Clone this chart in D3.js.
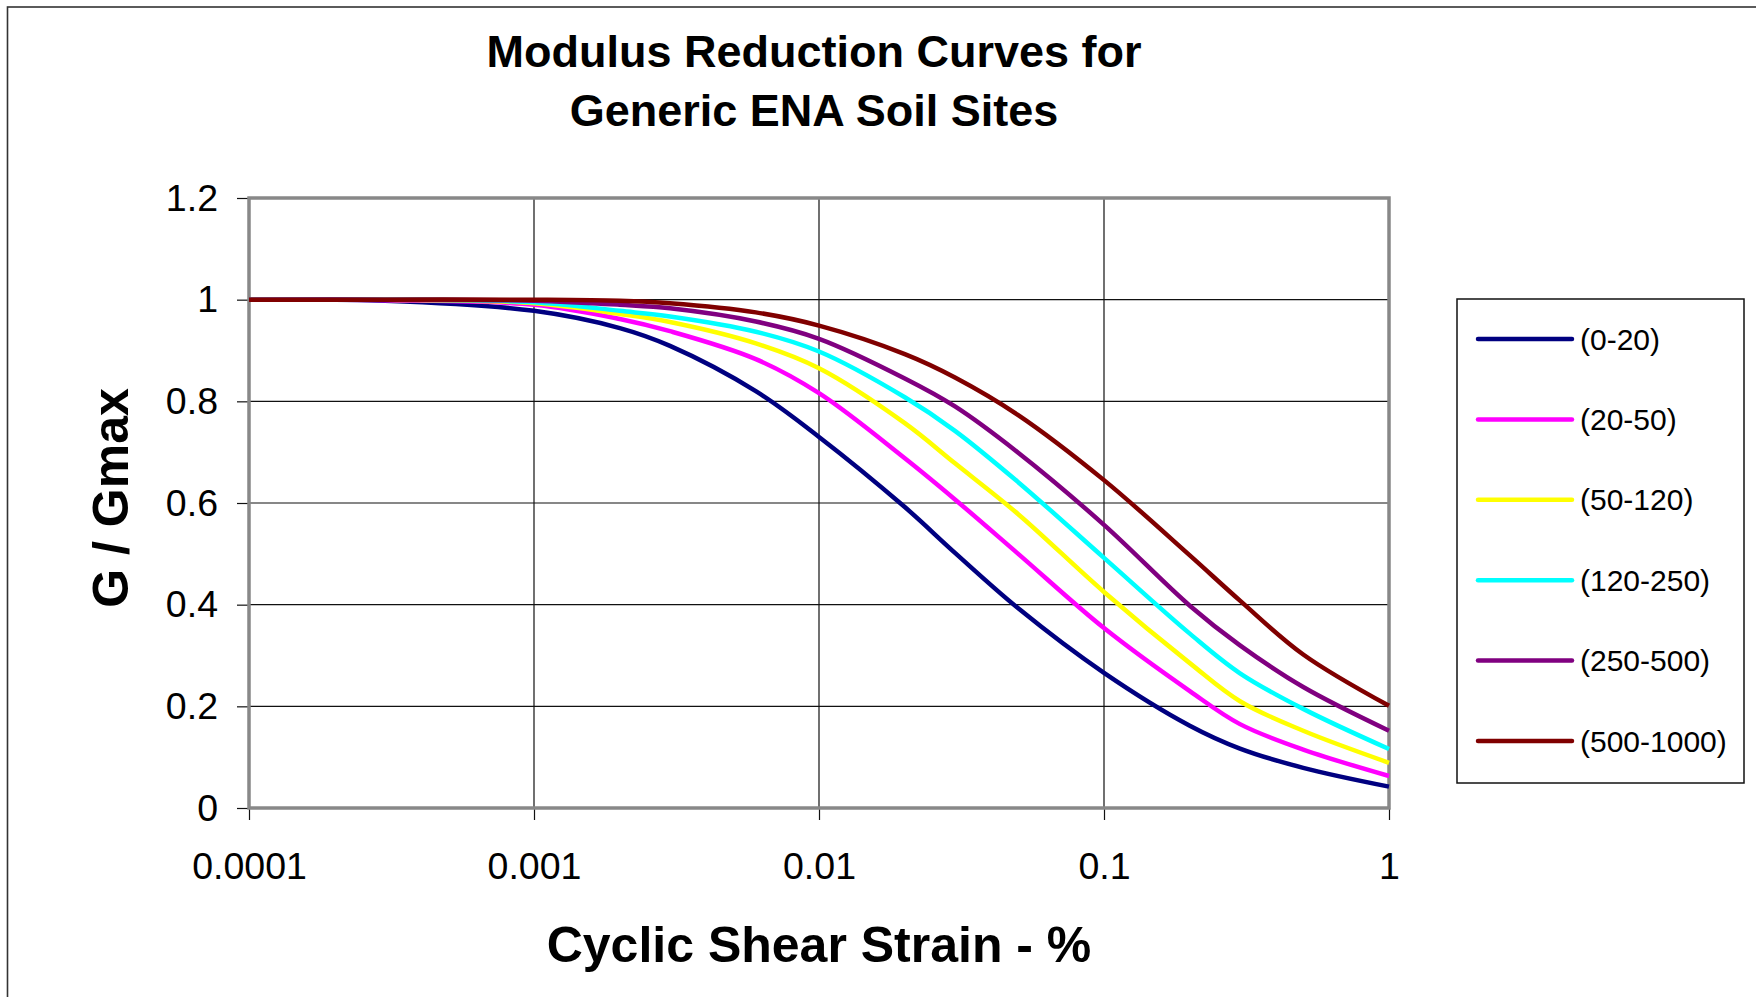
<!DOCTYPE html>
<html>
<head>
<meta charset="utf-8">
<script src="https://cdn.jsdelivr.net/npm/d3@7"></script>
<style>
  html, body { margin: 0; padding: 0; background: #fff; }
  svg { display: block; }
  text { font-family: "Liberation Sans", Arial, sans-serif; fill: #000; }
</style>
</head>
<body>
<svg id="chart" width="1756" height="997"></svg>
<script>
// ---- data ----
const strains = [0.0001, 0.0003, 0.001, 0.002, 0.003, 0.006, 0.01, 0.02, 0.03, 0.05, 0.1, 0.2, 0.3, 0.5, 1];
const seriesNames = ["(0-20)", "(20-50)", "(50-120)", "(120-250)", "(250-500)", "(500-1000)"];
const seriesColors = ["#000080", "#FF00FF", "#FFFF00", "#00FFFF", "#800080", "#800000"];
const g0_20     = [1.0, 0.998, 0.978, 0.944, 0.909, 0.820, 0.730, 0.592, 0.502, 0.393, 0.266, 0.162, 0.117, 0.079, 0.042];
const g20_50    = [1.0, 0.999, 0.990, 0.962, 0.938, 0.883, 0.816, 0.688, 0.607, 0.500, 0.354, 0.230, 0.165, 0.115, 0.063];
const g50_120   = [1.0, 1.000, 0.993, 0.972, 0.956, 0.914, 0.865, 0.757, 0.678, 0.578, 0.425, 0.285, 0.210, 0.152, 0.089];
const g120_250  = [1.0, 1.000, 0.995, 0.978, 0.967, 0.937, 0.898, 0.808, 0.742, 0.641, 0.492, 0.343, 0.265, 0.195, 0.116];
const g250_500  = [1.0, 1.000, 0.998, 0.990, 0.983, 0.957, 0.923, 0.845, 0.790, 0.699, 0.557, 0.398, 0.320, 0.238, 0.152];
const g500_1000 = [1.0, 1.000, 1.000, 0.998, 0.993, 0.975, 0.949, 0.893, 0.847, 0.773, 0.645, 0.497, 0.408, 0.302, 0.201];
const seriesValues = [g0_20, g20_50, g50_120, g120_250, g250_500, g500_1000];
const xTickValues = [0.0001, 0.001, 0.01, 0.1, 1];
const xTickLabels = ["0.0001", "0.001", "0.01", "0.1", "1"];
const yTickValues = [0, 0.2, 0.4, 0.6, 0.8, 1, 1.2];
const yTickLabels = ["0", "0.2", "0.4", "0.6", "0.8", "1", "1.2"];
const titleLines = ["Modulus Reduction Curves for", "Generic ENA Soil Sites"];
const xTitle = "Cyclic Shear Strain - %";
const yTitle = "G / Gmax";

// ---- layout ----
const W = 1756, H = 997;
const plot = { left: 249, right: 1389, top: 198, bottom: 808 };

const svg = d3.select("#chart");
svg.append("rect").attr("width", W).attr("height", H).attr("fill", "#fff");
// outer chart border (cropped at right/bottom)
svg.append("rect").attr("x", 7.5).attr("y", 7).attr("width", 1900).attr("height", 1200)
  .attr("fill", "none").attr("stroke", "#333").attr("stroke-width", 1.6);

const x = d3.scaleLog().domain([0.0001, 1]).range([plot.left, plot.right]);
const y = d3.scaleLinear().domain([0, 1.2]).range([plot.bottom, plot.top]);

// title
const title = svg.append("text").attr("text-anchor", "middle")
  .style("font-weight", "bold").style("font-size", "45px");
titleLines.forEach((t, i) => {
  title.append("tspan").attr("x", 814).attr("y", 67 + i * 59).text(t);
});

// gridlines
const grid = svg.append("g");
grid.selectAll("line.h").data(yTickValues.filter(v => v > 0 && v < 1.2)).enter().append("line")
  .attr("x1", plot.left).attr("x2", plot.right)
  .attr("y1", d => y(d)).attr("y2", d => y(d))
  .attr("stroke", "#111").attr("stroke-width", 1.2);
grid.selectAll("line.v").data(xTickValues.filter(v => v > 0.0001 && v < 1)).enter().append("line")
  .attr("y1", plot.top).attr("y2", plot.bottom)
  .attr("x1", d => x(d)).attr("x2", d => x(d))
  .attr("stroke", "#111").attr("stroke-width", 1.2);

// axes
const yAxis = d3.axisLeft(y).tickValues(yTickValues).tickFormat((d, i) => yTickLabels[i]).tickSize(12).tickPadding(19);
const gy = svg.append("g").attr("transform", `translate(${plot.left},0)`).call(yAxis);
gy.select(".domain").remove();
gy.selectAll(".tick line").attr("stroke", "#111").attr("stroke-width", 1.2);
gy.selectAll(".tick text").style("font-size", "37.5px").attr("fill", "#000");

const xAxis = d3.axisBottom(x).tickValues(xTickValues).tickFormat((d, i) => xTickLabels[i]).tickSize(12).tickPadding(32);
const gx = svg.append("g").attr("transform", `translate(0,${plot.bottom})`).call(xAxis);
gx.select(".domain").remove();
gx.selectAll(".tick line").attr("stroke", "#111").attr("stroke-width", 1.2);
gx.selectAll(".tick text").style("font-size", "37.5px").attr("fill", "#000");

// plot area border
svg.append("rect").attr("x", plot.left).attr("y", plot.top)
  .attr("width", plot.right - plot.left).attr("height", plot.bottom - plot.top)
  .attr("fill", "none").attr("stroke", "#888").attr("stroke-width", 3.5);

// series
const line = d3.line().x(d => x(d[0])).y(d => y(d[1])).curve(d3.curveCatmullRom.alpha(0.5));
seriesValues.forEach((vals, i) => {
  svg.append("path")
    .datum(strains.map((s, j) => [s, vals[j]]))
    .attr("d", line)
    .attr("fill", "none")
    .attr("stroke", seriesColors[i])
    .attr("stroke-width", 4.5)
    .attr("stroke-linejoin", "round");
});

// axis titles
svg.append("text").attr("x", 819).attr("y", 962).attr("text-anchor", "middle")
  .style("font-weight", "bold").style("font-size", "50px").text(xTitle);
svg.append("text").attr("transform", "translate(128,498) rotate(-90)").attr("text-anchor", "middle")
  .style("font-weight", "bold").style("font-size", "50px").text(yTitle);

// legend
const leg = svg.append("g");
leg.append("rect").attr("x", 1457).attr("y", 299).attr("width", 287).attr("height", 484)
  .attr("fill", "#fff").attr("stroke", "#111").attr("stroke-width", 1.5);
const legY = d3.scalePoint().domain(seriesNames).range([339, 741]);
seriesNames.forEach((n, i) => {
  leg.append("line").attr("x1", 1478).attr("x2", 1572)
    .attr("y1", legY(n)).attr("y2", legY(n))
    .attr("stroke", seriesColors[i]).attr("stroke-width", 4.5).attr("stroke-linecap", "round");
  leg.append("text").attr("x", 1580).attr("y", legY(n)).attr("dy", "0.35em")
    .style("font-size", "30px").text(n);
});
</script>
</body>
</html>
